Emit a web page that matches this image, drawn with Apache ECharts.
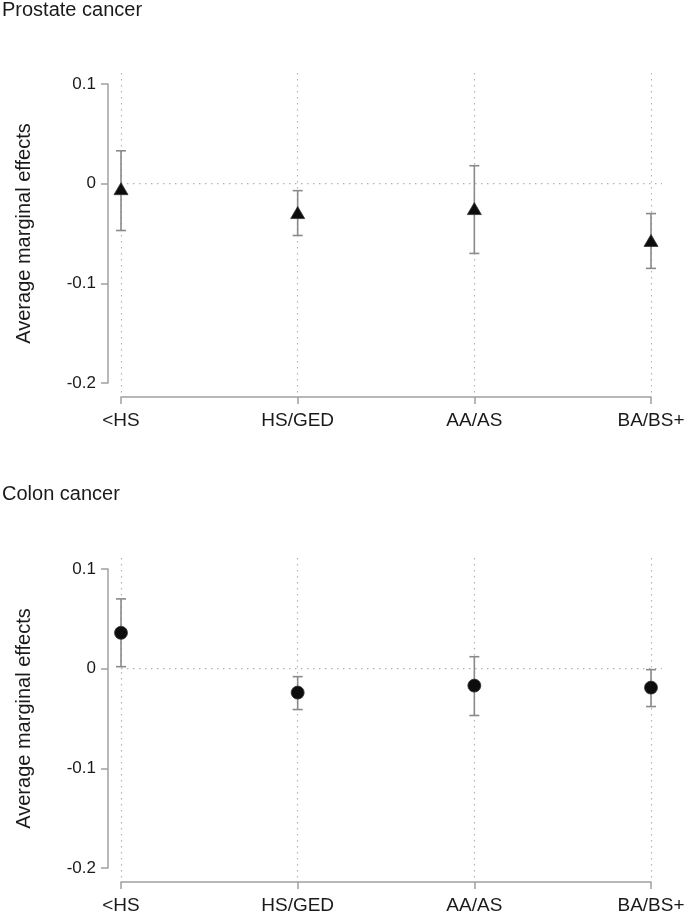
<!DOCTYPE html>
<html>
<head>
<meta charset="utf-8">
<script src="https://cdn.jsdelivr.net/npm/echarts@6/dist/echarts.min.js"></script>
<style>
html,body{margin:0;padding:0;background:#fff;}
#c{width:688px;height:915px;}
</style>
</head>
<body>
<div id="c"></div>
<script>
const categories = ['<HS', 'HS/GED', 'AA/AS', 'BA/BS+'];
const yTicks = [-0.2, -0.1, 0, 0.1];

const prostateEst = [-0.005, -0.029, -0.025, -0.057];
const prostateLo  = [-0.047, -0.052, -0.070, -0.085];
const prostateHi  = [0.033, -0.007, 0.018, -0.030];

const colonEst = [0.036, -0.024, -0.017, -0.019];
const colonLo  = [0.002, -0.041, -0.047, -0.038];
const colonHi  = [0.070, -0.008, 0.012, -0.001];

const refLineValue = [0];

const FONT = 'Liberation Sans, Arial, sans-serif';
const AXIS_GRAY = '#a0a0a0';
const GRID_GRAY = '#b4b4b4';
const BAR_GRAY = '#8a8a8a';
const TEXT = '#1a1a1a';

const chart = echarts.init(document.getElementById('c'), null, {renderer: 'canvas'});

const panels = [
  {title: 'Prostate cancer', titleTop: 0, top: 84, est: prostateEst, lo: prostateLo, hi: prostateHi, symbol: 'triangle', size: [14, 12]},
  {title: 'Colon cancer', titleTop: 484, top: 569, est: colonEst, lo: colonLo, hi: colonHi, symbol: 'circle', size: 13}
];
const H = 299;
const LEFT = 121, RIGHT = 37;

const grid = [], xAxis = [], yAxis = [], series = [], title = [];
const yMin = yTicks[0], yMax = yTicks[yTicks.length - 1];

panels.forEach((p, k) => {
  const g0 = grid.length;
  grid.push({left: LEFT, right: RIGHT, top: p.top, height: H});
  grid.push({left: LEFT, right: RIGHT, top: p.top - 11, height: H + 25});
  grid.push({left: LEFT, right: 26, top: p.top, height: H});

  title.push({
    text: p.title, left: 2, top: p.titleTop, padding: 0,
    textStyle: {fontSize: 20, fontWeight: 'normal', color: TEXT, fontFamily: FONT}
  });

  xAxis.push({
    gridIndex: g0, type: 'category', data: categories, boundaryGap: false, offset: 14,
    axisLine: {show: true, onZero: false, lineStyle: {color: AXIS_GRAY, width: 1.5}},
    axisTick: {show: true, length: 7, lineStyle: {color: AXIS_GRAY, width: 1.5}},
    axisLabel: {color: TEXT, fontSize: 19, fontFamily: FONT, margin: 14},
    splitLine: {show: false}
  });
  yAxis.push({
    gridIndex: g0, type: 'value', min: yMin, max: yMax, interval: 0.1, offset: 13,
    name: 'Average marginal effects', nameLocation: 'middle', nameGap: 74,
    nameTextStyle: {fontSize: 20, color: TEXT, fontFamily: FONT},
    axisLine: {show: true, onZero: false, lineStyle: {color: AXIS_GRAY, width: 1.5}},
    axisTick: {show: true, length: 7, lineStyle: {color: AXIS_GRAY, width: 1.5}},
    axisLabel: {color: TEXT, fontSize: 17, fontFamily: FONT, margin: 12,
      formatter: v => (Math.abs(v) < 1e-9 ? '0' : String(Math.round(v * 10) / 10))},
    splitLine: {show: false}
  });

  xAxis.push({
    gridIndex: g0 + 1, type: 'category', data: categories, boundaryGap: false,
    axisLine: {show: false, onZero: false}, axisTick: {show: false}, axisLabel: {show: false},
    splitLine: {show: true, lineStyle: {color: GRID_GRAY, type: [1.5, 4.5], width: 1.2}}
  });
  yAxis.push({gridIndex: g0 + 1, type: 'value', show: false, splitLine: {show: false}});

  xAxis.push({gridIndex: g0 + 2, type: 'value', min: 0, max: 1, show: false, splitLine: {show: false}});
  yAxis.push({gridIndex: g0 + 2, type: 'value', min: yMin, max: yMax, show: false, splitLine: {show: false}});

  // zero reference line (dotted), spans the extended grid width
  series.push({
    type: 'custom', xAxisIndex: g0 + 2, yAxisIndex: g0 + 2, z: 1, silent: true,
    data: refLineValue.map(v => [v]),
    renderItem: function (params, api) {
      const a = api.coord([0, api.value(0)]);
      const b = api.coord([1, api.value(0)]);
      return {
        type: 'line',
        shape: {x1: a[0], y1: a[1], x2: b[0], y2: b[1]},
        style: {stroke: GRID_GRAY, lineWidth: 1.2, lineDash: [1.5, 4.5]}
      };
    }
  });

  // error bars
  series.push({
    type: 'custom', xAxisIndex: g0, yAxisIndex: g0, z: 3,
    data: categories.map((c, i) => [i, p.lo[i], p.hi[i]]),
    renderItem: function (params, api) {
      const x = api.value(0);
      const a = api.coord([x, api.value(1)]);
      const b = api.coord([x, api.value(2)]);
      const cw = 5;
      const st = {stroke: BAR_GRAY, lineWidth: 1.6};
      return {
        type: 'group',
        children: [
          {type: 'line', shape: {x1: a[0], y1: a[1], x2: b[0], y2: b[1]}, style: st},
          {type: 'line', shape: {x1: a[0] - cw, y1: a[1], x2: a[0] + cw, y2: a[1]}, style: st},
          {type: 'line', shape: {x1: b[0] - cw, y1: b[1], x2: b[0] + cw, y2: b[1]}, style: st}
        ]
      };
    }
  });

  series.push({
    type: 'scatter', xAxisIndex: g0, yAxisIndex: g0, z: 4,
    symbol: p.symbol, symbolSize: p.size,
    data: categories.map((c, i) => [i, p.est[i]]),
    itemStyle: {color: '#0d0d0d', borderColor: '#333', borderWidth: 0.8, opacity: 1}
  });
});

chart.setOption({
  backgroundColor: '#ffffff',
  animation: false,
  title, grid, xAxis, yAxis, series
});
</script>
</body>
</html>
